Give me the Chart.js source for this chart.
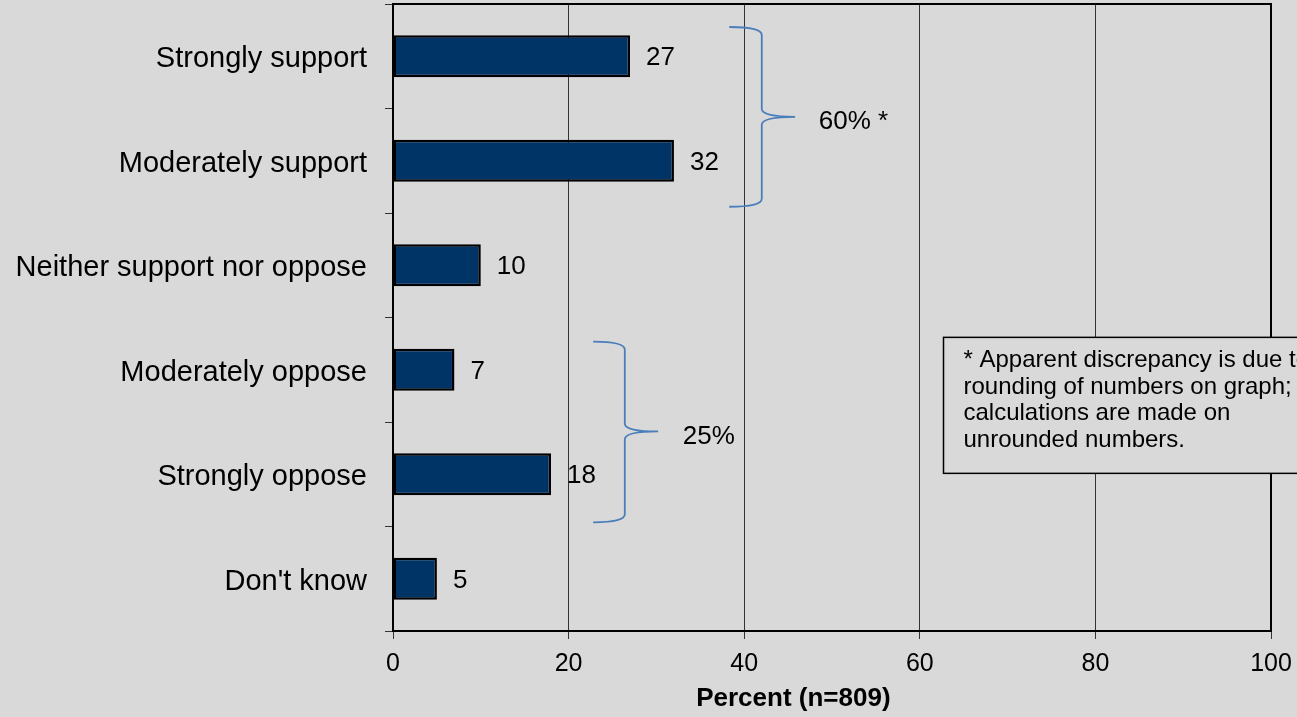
<!DOCTYPE html>
<html>
<head>
<meta charset="utf-8">
<script src="https://cdn.jsdelivr.net/npm/chart.js@4"></script>
<style>
  html, body { margin: 0; padding: 0; background: #d9d9d9; }
  canvas { display: block; }
</style>
</head>
<body>
<canvas id="supportChart" width="1297" height="717"></canvas>
<script>
// Survey responses
const categories = ['Strongly support', 'Moderately support', 'Neither support nor oppose',
  'Moderately oppose', 'Strongly oppose', "Don't know"];
const percents = [27, 32, 10, 7, 18, 5];
const xTicks = [0, 20, 40, 60, 80, 100];

// Grouped totals shown beside the braces
const groups = [
  { from: 0, to: 1, label: '60% *' },
  { from: 3, to: 4, label: '25%' }
];
const noteLines = ['* Apparent discrepancy is due to', 'rounding of numbers on graph;',
  'calculations are made on', 'unrounded numbers.'];
const axisTitle = 'Percent (n=809)';

const FONT = '"Liberation Sans", Arial, sans-serif';

// frame, value labels, braces, footnote box and axis title
const extras = {
  id: 'extras',
  afterDatasetsDraw(chart) {
    const { ctx, chartArea: a, scales: { x, y } } = chart;
    ctx.save();

    // plot frame (top + right; left/bottom are the axis borders)
    ctx.strokeStyle = '#000';
    ctx.lineWidth = 2;
    ctx.strokeRect(a.left, a.top, a.right - a.left, a.bottom - a.top);

    // value labels
    ctx.fillStyle = '#000';
    ctx.font = '26px ' + FONT;
    ctx.textBaseline = 'middle';
    ctx.textAlign = 'left';
    percents.forEach((v, i) => {
      ctx.fillText(String(v), x.getPixelForValue(v) + 16, y.getPixelForValue(i) + 2);
    });

    // braces
    const braceShapes = [
      { g: groups[0], xEnd: 38.3, xSpine: 42.0, xTip: 45.8, xText: 48.5, top: -0.28, bottom: 1.44, mid: 0.58 },
      { g: groups[1], xEnd: 22.8, xSpine: 26.4, xTip: 30.2, xText: 33.0, top: 2.73, bottom: 4.46, mid: 3.59 }
    ];
    ctx.strokeStyle = '#4a7ebb';
    ctx.lineWidth = 1.8;
    braceShapes.forEach(b => {
      const xe = x.getPixelForValue(b.xEnd), xs = x.getPixelForValue(b.xSpine), xt = x.getPixelForValue(b.xTip);
      const yt = y.getPixelForValue(b.top), yb = y.getPixelForValue(b.bottom), ym = y.getPixelForValue(b.mid);
      const r = 8;
      ctx.beginPath();
      ctx.moveTo(xe, yt);
      ctx.quadraticCurveTo(xs, yt, xs, yt + r);
      ctx.lineTo(xs, ym - r);
      ctx.quadraticCurveTo(xs, ym, xt, ym);
      ctx.moveTo(xt, ym);
      ctx.quadraticCurveTo(xs, ym, xs, ym + r);
      ctx.lineTo(xs, yb - r);
      ctx.quadraticCurveTo(xs, yb, xe, yb);
      ctx.stroke();
      ctx.fillStyle = '#000';
      ctx.font = '26px ' + FONT;
      ctx.textAlign = 'left';
      ctx.fillText(b.g.label, x.getPixelForValue(b.xText), ym + 5);
    });

    // footnote box
    const bx = x.getPixelForValue(62.7), by = y.getPixelForValue(2.69);
    const bh = 136;
    ctx.fillStyle = '#d9d9d9';
    ctx.fillRect(bx, by, 400, bh);
    ctx.strokeStyle = '#000';
    ctx.lineWidth = 1.5;
    ctx.strokeRect(bx, by, 400, bh);
    ctx.fillStyle = '#000';
    ctx.font = '24px ' + FONT;
    ctx.textBaseline = 'middle';
    noteLines.forEach((t, i) => ctx.fillText(t, bx + 20, by + 23 + i * 26.7));

    // axis title
    ctx.font = 'bold 26px ' + FONT;
    ctx.textAlign = 'center';
    ctx.fillText(axisTitle, x.getPixelForValue(45.6), a.bottom + 68);

    ctx.restore();
  }
};

new Chart(document.getElementById('supportChart'), {
  type: 'bar',
  data: {
    labels: categories,
    datasets: [{
      data: percents,
      backgroundColor: '#003366',
      borderColor: '#000',
      borderWidth: 2.5,
      borderSkipped: false,
      categoryPercentage: 1,
      barPercentage: 0.4
    }]
  },
  options: {
    indexAxis: 'y',
    responsive: false,
    animation: false,
    layout: { padding: { top: 4, right: 26, left: 0, bottom: 0 } },
    plugins: {
      legend: { display: false },
      tooltip: { enabled: false }
    },
    scales: {
      x: {
        min: 0,
        max: 100,
        afterBuildTicks: s => { s.ticks = xTicks.map(v => ({ value: v })); },
        afterFit: s => { s.height = 86; s.paddingLeft = 0; s.paddingRight = 0; },
        border: { color: '#000', width: 2 },
        grid: { color: '#333', lineWidth: 1, tickColor: '#333', tickLength: 8 },
        ticks: { color: '#000', font: { family: FONT, size: 25 }, padding: 10 }
      },
      y: {
        afterFit: s => { s.width = 393; s.paddingTop = 0; s.paddingBottom = 0; },
        border: { color: '#000', width: 2 },
        grid: { drawOnChartArea: false, offset: true, tickColor: '#333', tickLength: 8 },
        ticks: { color: '#000', font: { family: FONT, size: 29 }, padding: 18, labelOffset: 3 }
      }
    }
  },
  plugins: [extras]
});
</script>
</body>
</html>
